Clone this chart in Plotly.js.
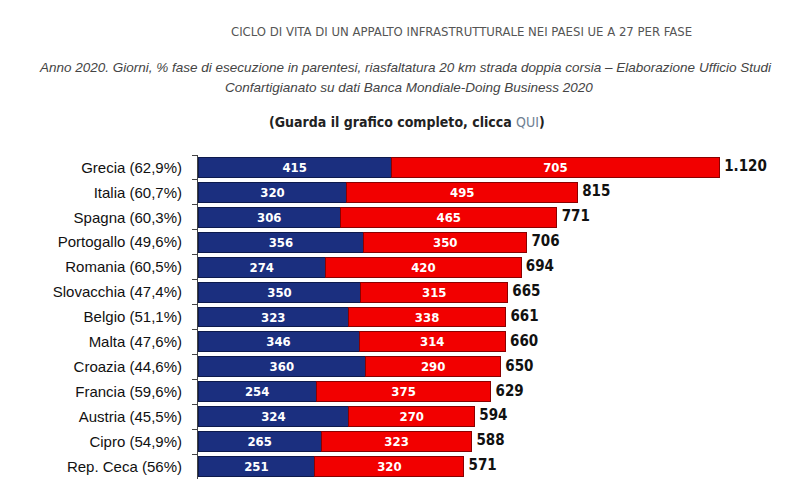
<!DOCTYPE html>
<html>
<head>
<meta charset="utf-8">
<script src="https://cdn.plot.ly/plotly-3.0.1.min.js"></script>
<style>html,body{margin:0;padding:0;background:#fff;}#chart{width:800px;height:502px;}</style>
</head>
<body>
<div id="chart"></div>
<script>
const countries = ["Grecia (62,9%)","Italia (60,7%)","Spagna (60,3%)","Portogallo (49,6%)","Romania (60,5%)","Slovacchia (47,4%)","Belgio (51,1%)","Malta (47,6%)","Croazia (44,6%)","Francia (59,6%)","Austria (45,5%)","Cipro (54,9%)","Rep. Ceca (56%)"];
const phase1 = [415,320,306,356,274,350,323,346,360,254,324,265,251];
const phase2 = [705,495,465,350,420,315,338,314,290,375,270,323,320];
const totals = [1120,815,771,706,694,665,661,660,650,629,594,588,571];
const totalLabels = ["1.120","815","771","706","694","665","661","660","650","629","594","588","571"];

const cond = "DejaVu Sans Condensed, DejaVu Sans, sans-serif";
const inside = {family: cond, size: 13, color: "#ffffff", weight: "bold"};

const traces = [
  {type:"bar", orientation:"h", y:countries, x:phase1, text:phase1.map(String),
   textposition:"inside", insidetextanchor:"middle", textangle:0, constraintext:"none",
   textfont:inside, marker:{color:"#1b2f7f", line:{color:"#0d1a4d", width:1}}, hoverinfo:"x+y"},
  {type:"bar", orientation:"h", y:countries, x:phase2, text:phase2.map(String),
   textposition:"inside", insidetextanchor:"middle", textangle:0, constraintext:"none",
   textfont:inside, marker:{color:"#f20000", line:{color:"#8a0000", width:1}}, hoverinfo:"x+y"},
  {type:"scatter", mode:"text", y:countries, x:totals, text:totalLabels.map(t=>"\u00a0"+t),
   textposition:"middle right", cliponaxis:false,
   textfont:{family:cond, size:15, color:"#111", weight:"bold"}, hoverinfo:"skip"}
];

const W = 582, H = 324;
const layout = {
  width:800, height:502,
  margin:{l:198, r:20, t:155, b:23},
  barmode:"stack", bargap:0.2, showlegend:false,
  paper_bgcolor:"#fff", plot_bgcolor:"#fff",
  xaxis:{range:[0,1250], visible:false, fixedrange:true},
  yaxis:{type:"category", autorange:false, range:[12.5,-0.5],
    showline:true, linecolor:"#444", linewidth:1,
    ticks:"outside", tickson:"boundaries", ticklen:5, tickcolor:"#444", ticklabelstandoff:12,
    tickfont:{family:"Liberation Sans, Arial, sans-serif", size:15, color:"#111"},
    showgrid:false, zeroline:false},
  annotations:[
    {xref:"paper", yref:"paper", x:(461-198)/W, xanchor:"center", y:1+(155-32)/H, yanchor:"middle",
     text:"CICLO DI VITA DI UN APPALTO INFRASTRUTTURALE NEI PAESI UE A 27 PER FASE", showarrow:false,
     font:{family:cond, size:13, color:"#555"}},
    {xref:"paper", yref:"paper", x:(405-198)/W, xanchor:"center", y:1+(155-67)/H, yanchor:"middle",
     text:"<i>Anno 2020. Giorni, % fase di esecuzione in parentesi, riasfaltatura 20 km strada doppia corsia – Elaborazione Ufficio Studi</i>", showarrow:false,
     font:{family:"Liberation Sans, Arial, sans-serif", size:13.5, color:"#444"}},
    {xref:"paper", yref:"paper", x:(409-198)/W, xanchor:"center", y:1+(155-88)/H, yanchor:"middle",
     text:"<i>Confartigianato su dati Banca Mondiale-Doing Business 2020</i>", showarrow:false,
     font:{family:"Liberation Sans, Arial, sans-serif", size:13.5, color:"#444"}},
    {xref:"paper", yref:"paper", x:(407-198)/W, xanchor:"center", y:1+(155-122)/H, yanchor:"middle",
     text:"<b>(Guarda il grafico completo, clicca </b><span style='color:#6f8193'>QUI</span><b>)</b>", showarrow:false,
     font:{family:cond, size:14, color:"#222"}}
  ]
};

Plotly.newPlot("chart", traces, layout, {displayModeBar:false, staticPlot:true});
</script>
</body>
</html>
